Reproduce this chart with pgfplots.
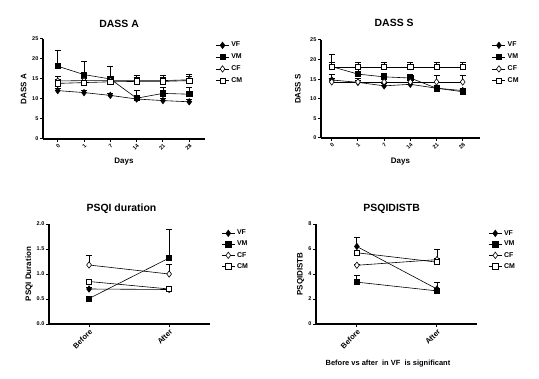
\documentclass[border=0pt]{standalone}
\usepackage{fontspec}
\setmainfont{Liberation Sans}
\usepackage{pgfplots}
\pgfplotsset{compat=1.18}
\pgfplotsset{
  prism/.style={
    scale only axis,
    axis lines=left,
    axis line style={line width=1.3bp,-},
    tick align=outside,
    major tick length=3bp,
    tick style={line width=1bp,black},
    ymin=0,
    /pgf/number format/assume math mode=true,
    ticklabel style={font=\bfseries\fontsize{5.5}{6}\selectfont},
    xticklabel style={rotate=45,anchor=north east,inner sep=1bp},
    yticklabel style={inner sep=1.5bp},
    title style={font=\bfseries\fontsize{10.5}{11}\selectfont,anchor=center,yshift=-6pt},
    label style={font=\bfseries\fontsize{8}{9}\selectfont},
    ylabel style={anchor=center},
    xlabel style={anchor=center},
    legend style={draw=none,fill=none,anchor=north west,
      font=\bfseries\fontsize{7}{8}\selectfont,row sep=1.5bp,inner sep=0pt},
    legend cell align=left,
    legend image code/.code={\draw[mark repeat=2,mark phase=2,#1] plot coordinates {(0bp,0bp) (6.5bp,0bp) (13bp,0bp)};},
    every axis plot/.append style={line width=0.6bp,black},
    error bars/error bar style={line width=0.8bp,black},
  },
  sVF/.style={mark=diamond*,mark size=3.2bp,mark options={fill=black,solid,line width=0.6bp}},
  sVM/.style={mark=square*,mark size=2.6bp,mark options={fill=black,solid,line width=0.6bp}},
  sCF/.style={mark=diamond*,mark size=3.2bp,mark options={fill=white,solid,line width=0.6bp}},
  sCM/.style={mark=square*,mark size=2.6bp,mark options={fill=white,solid,line width=0.6bp}},
  eb/.style={error bars/.cd,y dir=plus,y explicit,error mark options={rotate=90,mark size=3bp,line width=0.8bp}},
}
\begin{document}
\begin{tikzpicture}[x=1bp,y=1bp]
\path[use as bounding box] (0,0) rectangle (539,378);
% ---------- DASS A ----------
\begin{axis}[prism, at={(43bp,239bp)}, anchor=south west, width=162bp, height=100bp,
  xmin=-0.56, xmax=5.6, ymax=25, ytick={0,5,10,15,20,25},
  xtick={0,1,2,3,4,5}, xticklabels={0,1,7,14,21,28},
  title={DASS A}, title style={at={(axis description cs:0.47,1.15)}},
  xlabel={Days}, xlabel style={at={(axis description cs:0.5,-0.23)}},
  ylabel={DASS A}, ylabel style={at={(axis description cs:-0.12,0.5)}},
  legend style={at={(axis description cs:1.065,0.99)}}]
\addplot[sVF,eb] coordinates {(0,12.1)+-(0,0.5) (1,11.6)+-(0,0.5) (2,10.9)+-(0,0.4) (3,10.0)+-(0,0.4) (4,9.6)+-(0,0.5) (5,9.3)+-(0,0.5)};
\addplot[sVM,eb] coordinates {(0,18.2)+-(0,3.9) (1,16.1)+-(0,3.3) (2,15.0)+-(0,3.2) (3,10.2)+-(0,2.0) (4,11.4)+-(0,1.5) (5,11.2)+-(0,1.8)};
\addplot[sCF,eb] coordinates {(0,14.5)+-(0,1.1) (1,14.6)+-(0,1.1) (2,14.6)+-(0,1.0) (3,14.6)+-(0,1.4) (4,14.6)+-(0,1.4) (5,14.8)+-(0,1.4)};
\addplot[sCM,eb] coordinates {(0,13.9)+-(0,1.0) (1,14.1)+-(0,1.0) (2,14.3)+-(0,0.9) (3,14.4)+-(0,1.0) (4,14.4)+-(0,1.0) (5,14.6)+-(0,1.0)};
\legend{VF,VM,CF,CM}
\end{axis}
% ---------- DASS S ----------
\begin{axis}[prism, at={(321bp,240bp)}, anchor=south west, width=159bp, height=98bp,
  xmin=-0.41, xmax=5.66, ymax=25, ytick={0,5,10,15,20,25},
  xtick={0,1,2,3,4,5}, xticklabels={0,1,7,14,21,28},
  title={DASS S}, title style={at={(axis description cs:0.46,1.17)}},
  xlabel={Days}, xlabel style={at={(axis description cs:0.5,-0.24)}},
  ylabel={DASS S}, ylabel style={at={(axis description cs:-0.145,0.5)}},
  legend style={at={(axis description cs:1.075,1.0)}}]
\addplot[sVF,eb] coordinates {(0,14.8)+-(0,1.4) (1,14.2)+-(0,0.6) (2,13.3)+-(0,0.6) (3,13.7)+-(0,0.6) (4,12.7)+-(0,0.6) (5,12.1)+-(0,0.6)};
\addplot[sVM,eb] coordinates {(0,18.2)+-(0,3.0) (1,16.3)+-(0,1.2) (2,15.6)+-(0,1.0) (3,15.3)+-(0,1.0) (4,12.7)+-(0,0.6) (5,11.8)+-(0,0.8)};
\addplot[sCF,eb] coordinates {(0,14.3)+-(0,0.8) (1,14.3)+-(0,0.8) (2,14.3)+-(0,0.8) (3,14.3)+-(0,0.8) (4,14.3)+-(0,1.6) (5,14.3)+-(0,1.6)};
\addplot[sCM,eb] coordinates {(0,18.1)+-(0,1.3) (1,18.1)+-(0,1.3) (2,18.1)+-(0,1.3) (3,18.1)+-(0,1.3) (4,18.1)+-(0,1.3) (5,18.1)+-(0,1.3)};
\legend{VF,VM,CF,CM}
\end{axis}
% ---------- PSQI duration ----------
\begin{axis}[prism, at={(49bp,54bp)}, anchor=south west, width=161bp, height=100bp,
  xmin=-0.5, xmax=1.51, ymax=2.0, ytick={0,0.5,1,1.5,2},
  yticklabel style={/pgf/number format/.cd,fixed,fixed zerofill,precision=1},
  xtick={0,1}, xticklabels={Before,After},
  xticklabel style={font=\bfseries\fontsize{7.5}{8}\selectfont},
  title={PSQI duration}, title style={at={(axis description cs:0.45,1.15)}},
  ylabel={PSQI Duration}, ylabel style={at={(axis description cs:-0.124,0.5)}},
  legend style={at={(axis description cs:1.07,0.96)},row sep=0.7bp}]
\addplot[sVF,eb] coordinates {(0,0.70)+-(0,0.03) (1,0.69)+-(0,0.03)};
\addplot[sVM,eb] coordinates {(0,0.51)+-(0,0.03) (1,1.32)+-(0,0.58)};
\addplot[sCF,eb] coordinates {(0,1.18)+-(0,0.2) (1,1.0)+-(0,0.2)};
\addplot[sCM,eb] coordinates {(0,0.85)+-(0,0.03) (1,0.70)+-(0,0.03)};
\legend{VF,VM,CF,CM}
\end{axis}
% ---------- PSQIDISTB ----------
\begin{axis}[prism, at={(316bp,54bp)}, anchor=south west, width=161bp, height=100bp,
  xmin=-0.51, xmax=1.5, ymax=8, ytick={0,2,4,6,8},
  xtick={0,1}, xticklabels={Before,After},
  xticklabel style={font=\bfseries\fontsize{7.5}{8}\selectfont},
  title={PSQIDISTB}, title style={at={(axis description cs:0.47,1.15)}},
  ylabel={PSQIDISTB}, ylabel style={at={(axis description cs:-0.095,0.5)}},
  xlabel={Before vs after\ \ in VF\ \ is significant},
  xlabel style={at={(axis description cs:0.447,-0.40)},font=\bfseries\fontsize{7.5}{8}\selectfont},
  legend style={at={(axis description cs:1.07,0.96)},row sep=0.7bp}]
\addplot[sVF,eb] coordinates {(0,6.2)+-(0,0.75) (1,2.8)+-(0,0.5)};
\addplot[sVM,eb] coordinates {(0,3.35)+-(0,0.55) (1,2.65)+-(0,0.1)};
\addplot[sCF,eb] coordinates {(0,4.7)+-(0,0.1) (1,5.15)+-(0,0.1)};
\addplot[sCM,eb] coordinates {(0,5.7)+-(0,0.1) (1,4.95)+-(0,1.05)};
\legend{VF,VM,CF,CM}
\end{axis}
\end{tikzpicture}
\end{document}
